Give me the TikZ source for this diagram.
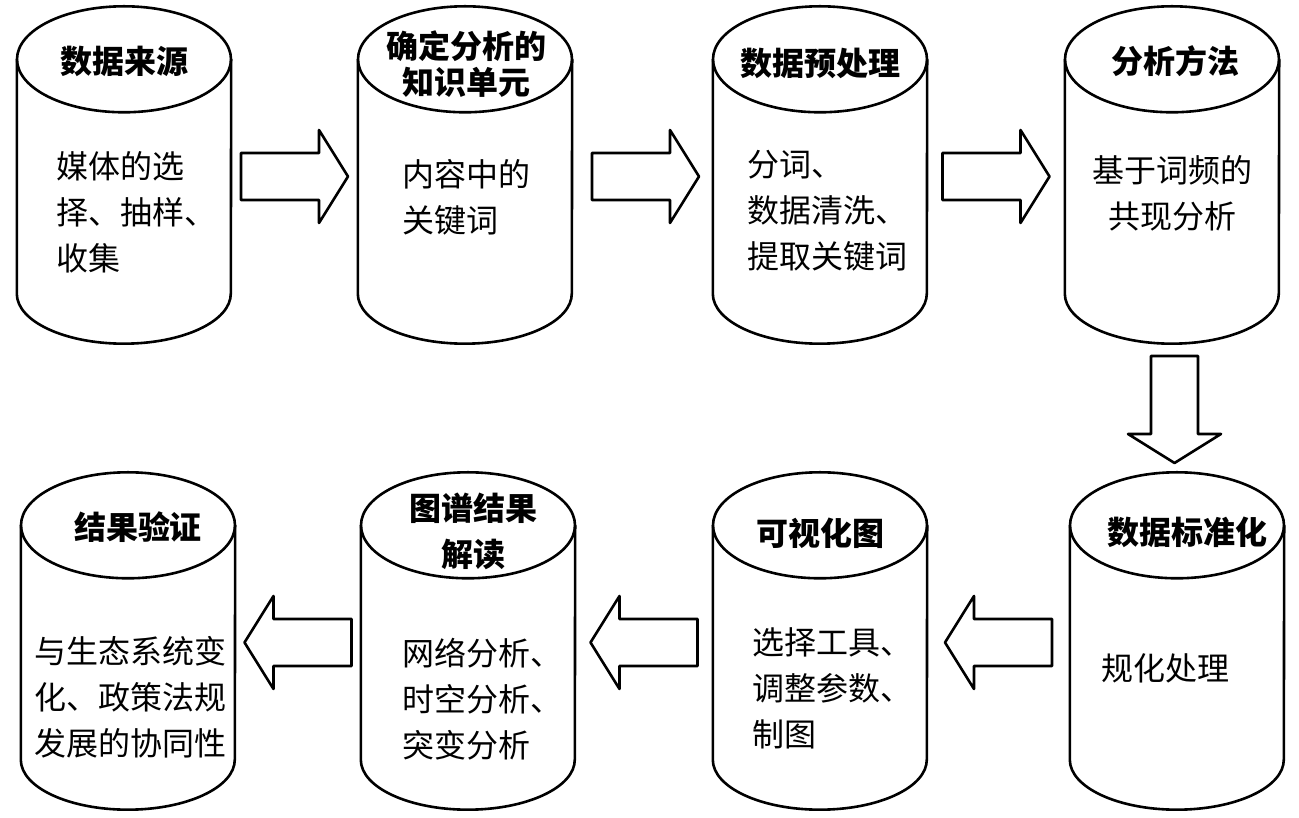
\documentclass[tikz,border=0pt]{standalone}
\usepackage{fontspec}
\newfontfamily\cjk{Noto Sans CJK SC}
\usetikzlibrary{calc}
\tikzset{
  cyl/.style={minimum width=214pt, minimum height=234pt, inner sep=0pt},
  cylline/.style={line width=2.6pt, line join=round},
  titletext/.style={font=\cjk\bfseries\fontsize{32}{46}\selectfont, align=center, inner sep=0pt},
  bodytext/.style={font=\cjk\fontsize{32}{46}\selectfont, align=left, inner sep=0pt},
  blockarrow/.pic={
    \draw[cylline, fill=white] (-53.5,-23.5) -- (24.5,-23.5) -- (24.5,-46.5) -- (53.5,0)
      -- (24.5,46.5) -- (24.5,23.5) -- (-53.5,23.5) -- cycle;
  }
}
\begin{document}
\begin{tikzpicture}[x=1pt, y=1pt]
            % Frame to ensure alignment
            \fill[white] (0,0) rectangle (1299,818);
            \useasboundingbox (0,0) rectangle (1299,818);
            % Top row
            \node[cyl] (c1) at ( 124, 641.5) {};
            \node[cyl] (c2) at ( 465, 641.5) {};
            \node[cyl] (c3) at ( 820, 641.5) {};
            \node[cyl] (c4) at (1172, 641.5) {};
            % Bottom row
            \node[cyl] (b1) at ( 128, 175.5) {};
            \node[cyl] (b2) at ( 468, 175.5) {};
            \node[cyl] (b3) at ( 820, 175.5) {};
            \node[cyl] (b4) at (1177, 175.5) {};
            % Cylinder outlines
            \foreach \c in {c1,c2,c3,c4,b1,b2,b3,b4} {
              \draw[cylline] (\c.north west) -- (\c.south west)
                arc[start angle=180, end angle=360, x radius=107pt, y radius=50pt] -- (\c.north east);
              \draw[cylline] (\c.north) ellipse [x radius=107pt, y radius=53pt];
            }
            % Titles
            \node[titletext] (t1) at ($(c1.north)+(0,-2)$) {数据来源};
            \node[titletext, font=\cjk\bfseries\fontsize{32}{36}\selectfont] (t2) at ($(c2.north)+(1,-5)$) {确定分析的\\知识单元};
            \node[titletext] (t3) at ($(c3.north)+(0,-4)$) {数据预处理};
            \node[titletext] (t4) at ($(c4.north)+(3,-2)$) {分析方法};
            \node[titletext] (u1) at ($(b1.north)+(10,-2)$) {结果验证};
            \node[titletext] (u2) at ($(b2.north)+(5,-6)$) {图谱结果\\解读};
            \node[titletext] (u3) at ($(b3.north)+(0,-8)$) {可视化图};
            \node[titletext] (u4) at ($(b4.north)+(10,-7)$) {数据标准化};
            % Contents
            \node[bodytext, anchor=west] (m1) at (  56, 606) {媒体的选\\择、抽样、\\收集};
            \node[bodytext, anchor=west] (m2) at ( 402, 621) {内容中的\\关键词};
            \node[bodytext, anchor=west] (m3) at ( 747, 607) {分词、\\数据清洗、\\提取关键词};
            \node[bodytext, align=center] (m4) at (1172, 625) {基于词频的\\共现分析};
            \node[bodytext, anchor=west] (n1) at (  34, 121) {与生态系统变\\化、政策法规\\发展的协同性};
            \node[bodytext, anchor=west] (n2) at ( 402, 119) {网络分析、\\时空分析、\\突变分析};
            \node[bodytext, anchor=west] (n3) at ( 752, 130) {选择工具、\\调整参数、\\制图};
            \node[bodytext, anchor=west] (n4) at (1101, 150) {规化处理};
            % Arrows
            \coordinate (a1) at ($(c1.east)!0.5!(c2.west)$);
            \coordinate (a2) at ($(c2.east)!0.5!(c3.west)+(3,0)$);
            \coordinate (a3) at ($(c3.east)!0.5!(c4.west)$);
            \coordinate (a4) at ($(c4.south)!0.5!(b4.north)$);
            \coordinate (a5) at ($(b2.east)!0.5!(b3.west)$);
            \coordinate (a6) at ($(b1.east)!0.5!(b2.west)$);
            \coordinate (a7) at ($(b3.east)!0.5!(b4.west)$);
            \pic at (a1) {blockarrow};
            \pic at (a2) {blockarrow};
            \pic at (a3) {blockarrow};
            \pic[rotate=-90] at (a4) {blockarrow};
            \pic[rotate=180] at (a5) {blockarrow};
            \pic[rotate=180] at (a6) {blockarrow};
            \pic[rotate=180] at (a7) {blockarrow};
\end{tikzpicture}
\end{document}
